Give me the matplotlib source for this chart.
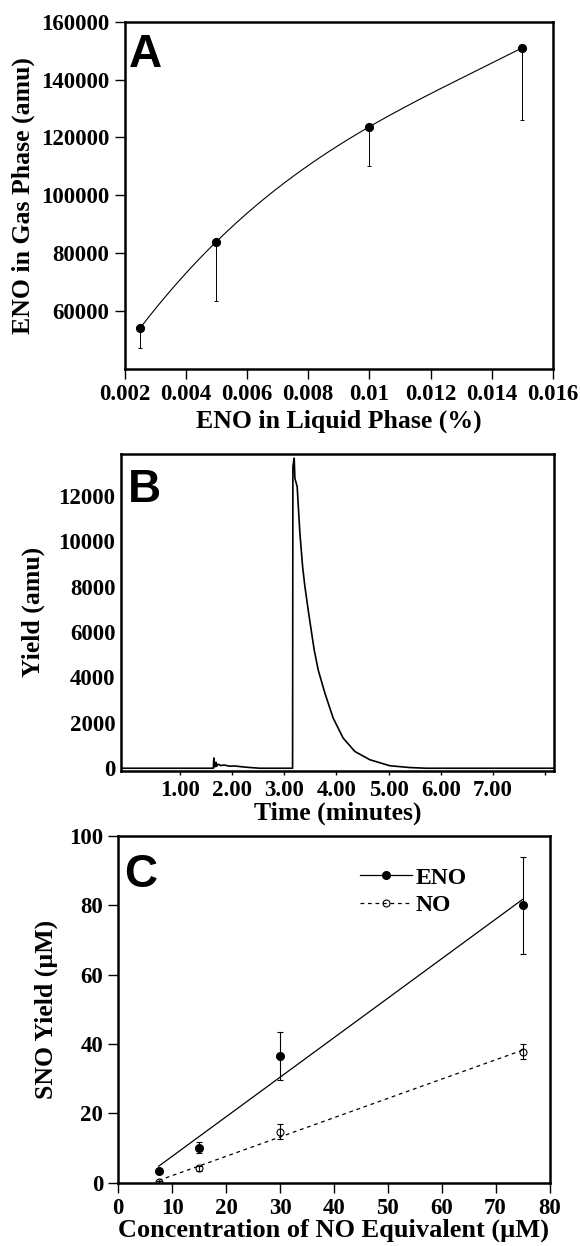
import numpy as np
import matplotlib
matplotlib.use("Agg")
import matplotlib.pyplot as plt
from matplotlib.lines import Line2D

plt.rcParams['font.family'] = ['Liberation Serif', 'DejaVu Serif']
plt.rcParams['font.weight'] = 'bold'
plt.rcParams['axes.labelweight'] = 'bold'

# ---------------- data ----------------
# Panel A
a_x = [0.0025, 0.005, 0.010, 0.015]
a_y = [54000, 84000, 123700, 151000]
a_err_low = [6600, 20600, 13400, 25000]
a_xticks = [0.002, 0.004, 0.006, 0.008, 0.010, 0.012, 0.014, 0.016]
a_xticklabels = ['0.002', '0.004', '0.006', '0.008', '0.01', '0.012', '0.014', '0.016']
a_yticks = [60000, 80000, 100000, 120000, 140000, 160000]

# Panel B (trace)
b_time = [-0.13, 1.64, 1.65, 1.67, 1.69, 1.70, 1.73, 1.78, 1.85, 1.95, 2.05, 2.20, 2.35,
          2.53, 3.159, 3.165, 3.19, 3.203, 3.247, 3.299, 3.351, 3.395, 3.458, 3.534,
          3.573, 3.649, 3.778, 3.937, 4.128, 4.352, 4.640, 5.023, 5.406, 5.726, 8.17]
b_yield = [0, 0, 450, 60, 260, 80, 180, 120, 140, 90, 100, 60, 30,
           0, 0, 13300, 13665, 12780, 12410, 10360, 8890, 8010, 6980, 5806,
           5220, 4339, 3313, 2211, 1330, 740, 374, 110, 30, 0, 0]
b_xticks = [1, 2, 3, 4, 5, 6, 7, 8]
b_xticklabels = ['1.00', '2.00', '3.00', '4.00', '5.00', '6.00', '7.00', '']
b_yticks = [0, 2000, 4000, 6000, 8000, 10000, 12000]

# Panel C
c_x = [7.5, 15, 30, 75]
c_eno = [3.5, 10.1, 36.6, 80.0]
c_eno_err = [0.5, 1.5, 7.0, 14.0]
c_no = [0.3, 4.1, 14.7, 37.8]
c_no_err = [0.3, 0.8, 2.2, 2.1]

# ---------------- figure ----------------
W, H = 580, 1246
fig = plt.figure(figsize=(W / 100, H / 100), dpi=100)

def ax_px(l, r, t, b):
    return fig.add_axes([l / W, 1 - b / H, (r - l) / W, (b - t) / H])

TICK_FS = 16.5
LAB_FS = 18.5

# ---- Panel A ----
axA = ax_px(124.5, 553, 21.7, 369)
fitA = np.polyfit(a_x, a_y, 3)
xs = np.linspace(min(a_x), max(a_x), 200)
axA.plot(xs, np.polyval(fitA, xs), color='black', lw=0.8)
axA.errorbar(a_x, a_y, yerr=[a_err_low, [0] * len(a_x)], fmt='o', color='black',
             ms=5.6, elinewidth=0.7, capsize=1.5, capthick=0.7)
axA.set_xlim(0.002, 0.016)
axA.set_ylim(40000, 160000)
axA.set_xticks(a_xticks)
axA.set_xticklabels(a_xticklabels)
axA.set_yticks(a_yticks)
axA.set_xlabel('ENO in Liquid Phase (%)', fontsize=LAB_FS, labelpad=3)
axA.set_ylabel('ENO in Gas Phase (amu)', fontsize=LAB_FS, labelpad=4)
axA.tick_params(direction='out', length=7, width=1, labelsize=TICK_FS, pad=4)

# ---- Panel B ----
axB = ax_px(121, 554, 454, 770.5)
axB.plot(b_time, b_yield, color='black', lw=1.2)
axB.set_xlim(-0.13, 8.17)
axB.set_ylim(-100, 13850)
axB.set_xticks(b_xticks)
axB.set_xticklabels(b_xticklabels)
axB.set_yticks(b_yticks)
axB.set_xlabel('Time (minutes)', fontsize=LAB_FS, labelpad=0)
axB.set_ylabel('Yield (amu)', fontsize=LAB_FS, labelpad=10)
axB.tick_params(axis='x', direction='out', length=3, width=1, labelsize=TICK_FS, pad=4)
axB.tick_params(axis='y', length=0, labelsize=TICK_FS, pad=4)

# ---- Panel C ----
axC = ax_px(118.3, 549.5, 836, 1182.7)
fit_eno = np.polyfit(c_x, c_eno, 1)
fit_no = np.polyfit(c_x, c_no, 1)
xl = np.array([min(c_x), max(c_x)])
axC.plot(xl, np.polyval(fit_eno, xl), color='black', lw=0.9)
axC.plot(xl, np.polyval(fit_no, xl), color='black', lw=0.9, ls=(0, (3, 3)))
axC.errorbar(c_x, c_eno, yerr=c_eno_err, fmt='o', color='black', ms=5.5,
             elinewidth=0.8, capsize=2.5, capthick=0.8)
axC.errorbar(c_x, c_no, yerr=c_no_err, fmt='o', color='black', mfc='none', ms=5.0,
             mew=0.8, elinewidth=0.8, capsize=2.5, capthick=0.8)
axC.set_xlim(0, 80)
axC.set_ylim(0, 100)
axC.set_xticks(range(0, 81, 10))
axC.set_yticks(range(0, 101, 20))
axC.set_xlabel('Concentration of NO Equivalent (µM)', fontsize=19, labelpad=0)
axC.set_ylabel('SNO Yield (µM)', fontsize=LAB_FS, labelpad=8)
axC.tick_params(direction='out', length=7, width=1, labelsize=TICK_FS, pad=4)

h_eno = Line2D([], [], color='black', lw=0.9, marker='o', ms=5.5)
h_no = Line2D([], [], color='black', lw=0.9, ls=(0, (3, 3)), marker='o', mfc='none',
              ms=5.0, mew=0.8)
axC.legend([h_eno, h_no], ['ENO', 'NO'], loc='upper left', bbox_to_anchor=(0.56, 0.91),
           frameon=False, fontsize=17, handlelength=2.2, handletextpad=0.15,
           labelspacing=0.25, borderpad=0, borderaxespad=0)

for ax in (axA, axB, axC):
    for sp in ax.spines.values():
        sp.set_linewidth(1.8)
        sp.set_color('black')

# panel letters
for letter, (px, py) in zip('ABC', [(129, 33), (128, 468), (124, 853)]):
    fig.text(px / W, 1 - py / H, letter, fontsize=33, family='Liberation Sans',
             weight='bold', ha='left', va='top')

fig.savefig('out.png', dpi=100)
